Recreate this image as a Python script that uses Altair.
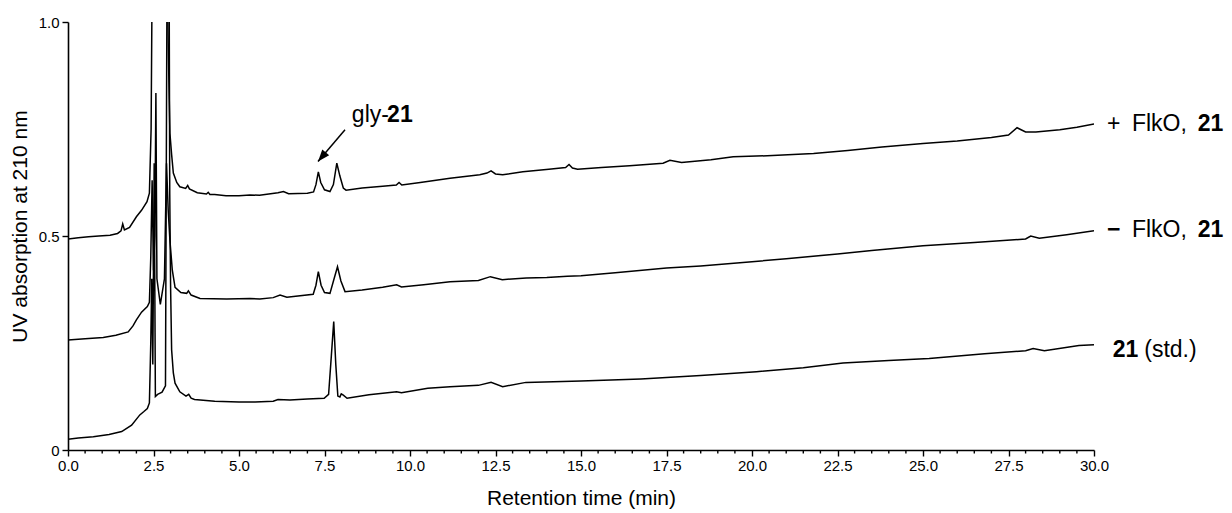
import altair as alt
import pandas as pd

# ---- chromatogram traces (retention time in min, absorption) ----
top_trace = [  # + FlkO, 21
    (0.0, 0.493), (0.3, 0.496), (0.6, 0.498), (0.9, 0.500), (1.23, 0.502), (1.45, 0.506),
    (1.55, 0.512), (1.6, 0.528), (1.65, 0.514), (1.8, 0.520), (2.0, 0.545), (2.15, 0.560),
    (2.31, 0.580), (2.38, 0.600), (2.43, 0.75), (2.46, 1.10), (2.5, 1.30), (2.85, 1.30),
    (2.9, 1.10), (2.93, 0.95), (2.96, 0.82), (2.98, 0.74), (3.03, 0.69), (3.08, 0.647),
    (3.18, 0.625), (3.27, 0.615), (3.44, 0.611), (3.5, 0.618), (3.55, 0.610), (3.78, 0.601),
    (4.05, 0.598), (4.1, 0.602), (4.15, 0.597), (4.29, 0.597), (4.62, 0.594), (5.0, 0.594),
    (5.32, 0.596), (5.6, 0.595), (6.14, 0.601), (6.3, 0.604), (6.45, 0.599), (7.0, 0.600),
    (7.18, 0.603), (7.25, 0.620), (7.32, 0.650), (7.39, 0.625), (7.5, 0.608), (7.66, 0.604),
    (7.76, 0.620), (7.86, 0.670), (7.95, 0.640), (8.05, 0.612), (8.13, 0.607), (8.6, 0.612),
    (9.2, 0.616), (9.6, 0.619), (9.68, 0.625), (9.76, 0.619), (10.3, 0.625), (11.17, 0.635),
    (12.04, 0.643), (12.25, 0.647), (12.37, 0.652), (12.5, 0.645), (12.71, 0.643), (13.3, 0.650),
    (14.06, 0.656), (14.55, 0.660), (14.65, 0.667), (14.75, 0.659), (14.9, 0.656), (15.6, 0.660),
    (16.42, 0.664), (17.4, 0.670), (17.6, 0.677), (17.94, 0.672), (18.8, 0.678), (19.45, 0.685),
    (20.6, 0.688), (21.8, 0.693), (22.8, 0.700), (23.8, 0.708), (25.0, 0.716), (26.0, 0.722),
    (27.0, 0.730), (27.5, 0.736), (27.75, 0.753), (28.0, 0.743), (28.3, 0.743), (29.0, 0.748),
    (29.5, 0.754), (30.0, 0.762),
]

mid_trace = [  # - FlkO, 21
    (0.0, 0.257), (0.5, 0.260), (1.03, 0.263), (1.4, 0.268), (1.76, 0.276), (1.9, 0.290),
    (2.0, 0.304), (2.15, 0.322), (2.32, 0.335), (2.38, 0.345), (2.42, 0.45), (2.46, 0.63),
    (2.50, 0.42), (2.54, 0.50), (2.57, 0.834), (2.60, 0.40), (2.70, 0.34), (2.82, 0.40),
    (2.88, 0.67), (2.93, 0.56), (2.98, 0.49), (3.05, 0.42), (3.13, 0.38), (3.3, 0.368),
    (3.47, 0.366), (3.52, 0.372), (3.6, 0.362), (3.86, 0.354), (4.64, 0.353), (5.32, 0.354),
    (5.61, 0.353), (6.0, 0.356), (6.2, 0.362), (6.4, 0.357), (7.17, 0.364), (7.25, 0.385),
    (7.32, 0.417), (7.40, 0.385), (7.5, 0.368), (7.66, 0.366), (7.78, 0.400), (7.88, 0.428),
    (7.98, 0.395), (8.1, 0.370), (8.6, 0.374), (9.2, 0.380), (9.61, 0.386), (9.75, 0.381),
    (10.4, 0.386), (11.17, 0.393), (12.0, 0.396), (12.35, 0.405), (12.7, 0.398), (13.4, 0.402),
    (14.0, 0.403), (14.6, 0.406), (15.0, 0.407), (16.0, 0.414), (17.5, 0.425), (18.5, 0.430),
    (20.0, 0.440), (21.0, 0.447), (22.5, 0.458), (23.5, 0.466), (25.0, 0.477), (26.5, 0.485),
    (28.0, 0.493), (28.15, 0.500), (28.4, 0.495), (29.2, 0.503), (30.0, 0.512),
]

std_trace = [  # 21 (std.)
    (0.0, 0.025), (0.3, 0.028), (0.74, 0.031), (1.2, 0.036), (1.57, 0.043), (1.86, 0.058),
    (2.1, 0.082), (2.22, 0.090), (2.32, 0.097), (2.38, 0.11), (2.42, 0.25), (2.45, 0.40),
    (2.48, 0.20), (2.52, 0.67), (2.555, 0.125), (2.62, 0.13), (2.75, 0.135), (2.85, 0.15),
    (2.90, 1.20), (2.95, 1.30), (2.975, 0.60), (3.0, 0.38), (3.03, 0.234), (3.08, 0.18),
    (3.13, 0.156), (3.27, 0.136), (3.45, 0.126), (3.53, 0.130), (3.6, 0.121), (3.7, 0.118),
    (4.29, 0.114), (5.0, 0.112), (5.47, 0.112), (6.0, 0.114), (6.14, 0.118), (6.49, 0.117),
    (7.0, 0.119), (7.49, 0.121), (7.62, 0.13), (7.70, 0.22), (7.77, 0.30), (7.83, 0.20),
    (7.89, 0.126), (7.95, 0.124), (7.99, 0.131), (8.05, 0.128), (8.16, 0.121), (8.8, 0.129),
    (9.61, 0.136), (9.75, 0.134), (10.52, 0.144), (11.17, 0.148), (12.0, 0.151), (12.37, 0.158),
    (12.71, 0.148), (13.39, 0.158), (15.0, 0.161), (16.75, 0.166), (18.5, 0.174), (20.13, 0.183),
    (21.5, 0.192), (22.66, 0.203), (24.0, 0.209), (25.18, 0.214), (26.8, 0.225), (28.0, 0.232),
    (28.22, 0.237), (28.55, 0.232), (29.56, 0.244), (30.0, 0.246),
]

# ---- axes ----
x_domain = [0, 30]
y_domain = [0, 1]
x_major_ticks = [i * 2.5 for i in range(13)]
x_minor_ticks = [i * 0.5 for i in range(61) if i % 5 != 0]
y_tick_values = [0, 0.5, 1.0]

# ---- annotations (data coordinates) ----
normal_labels = [
    ("gly-", 8.30, 0.767), ("+", 30.38, 0.746), ("FlkO,", 31.11, 0.746),
    ("FlkO,", 31.11, 0.498), ("(std.)", 31.47, 0.218),
]
bold_labels = [
    ("21", 9.33, 0.767), ("21", 33.03, 0.746), ("\u2212", 30.38, 0.498),
    ("21", 33.03, 0.498), ("21", 30.55, 0.218),
]
arrow_tail = (8.10, 0.748)
arrow_tip = (7.31, 0.674)

FONT = "Liberation Sans"
W, H = 1026, 428

frames = []
for name, tr in [("top", top_trace), ("mid", mid_trace), ("std", std_trace)]:
    frames.append(pd.DataFrame({"t": [p[0] for p in tr], "a": [p[1] for p in tr], "series": name}))
df = pd.concat(frames, ignore_index=True)

x_scale = alt.Scale(domain=x_domain, nice=False, zero=False)
y_scale = alt.Scale(domain=y_domain, nice=False)

x_axis = alt.Axis(
    values=x_major_ticks, format=".1f",
    tickSize=6, labelPadding=2, labelOverlap=False, labelFlush=False, labelFontSize=15,
    title="Retention time (min)", titleY=37, titleFontSize=21, titleFontWeight="normal",
    grid=False,
)
y_axis = alt.Axis(
    values=y_tick_values,
    labelExpr="datum.value == 0 ? '0' : format(datum.value, '.1f')",
    tickSize=6, labelPadding=3, grid=False, labelFontSize=15,
    title="UV absorption at 210 nm", titleX=-38, titleY=204, titleAngle=-90,
    titleBaseline="bottom", titleFontSize=21, titleFontWeight="normal",
)

lines = alt.Chart(df).mark_line(clip=True, color="black", strokeWidth=1.5).encode(
    x=alt.X("t:Q", scale=x_scale, axis=x_axis),
    y=alt.Y("a:Q", scale=y_scale, axis=y_axis),
    detail="series:N",
)

# minor ticks on the x axis (positions through the x scale)
minor_df = pd.DataFrame({"t": x_minor_ticks})
minor = alt.Chart(minor_df).mark_rule(color="black", strokeWidth=1.4).encode(
    x="t:Q",
    y=alt.value(H), y2=alt.value(H + 3.5),
)

arrow_df = pd.DataFrame({"t": [arrow_tail[0]], "a": [arrow_tail[1]],
                         "t2": [arrow_tip[0]], "a2": [arrow_tip[1]]})
arrow = alt.Chart(arrow_df).mark_rule(color="black", strokeWidth=1.5).encode(
    x="t:Q", y="a:Q", x2="t2:Q", y2="a2:Q")

head_df = pd.DataFrame({"t": [arrow_tip[0]], "a": [arrow_tip[1]]})
head = alt.Chart(head_df).mark_point(
    shape="M0,0 L0.75,2 L-0.75,2 Z", filled=True, color="black", opacity=1,
    size=144, angle=220, strokeWidth=0,
).encode(x="t:Q", y="a:Q")

ndf = pd.DataFrame({"label": [l[0] for l in normal_labels], "t": [l[1] for l in normal_labels],
                    "a": [l[2] for l in normal_labels]})
bdf = pd.DataFrame({"label": [l[0] for l in bold_labels], "t": [l[1] for l in bold_labels],
                    "a": [l[2] for l in bold_labels]})

text_n = alt.Chart(ndf).mark_text(
    align="left", baseline="alphabetic", font=FONT, fontSize=23, color="black",
).encode(x="t:Q", y="a:Q", text="label:N")
text_b = alt.Chart(bdf).mark_text(
    align="left", baseline="alphabetic", font=FONT, fontSize=23, fontWeight="bold", color="black",
).encode(x="t:Q", y="a:Q", text="label:N")

chart = alt.layer(lines, minor, arrow, head, text_n, text_b).properties(
    width=W, height=H,
    background="white",
    autosize=alt.AutoSizeParams(type="none"),
    padding={"left": 68, "top": 22, "right": 138, "bottom": 63},
).configure_view(stroke=None).configure_axis(
    domainColor="black", domainWidth=1.6, tickColor="black", tickWidth=1.4,
    labelColor="black", labelFont=FONT, labelFontSize=15, labelOverlap=False,
    titleColor="black", titleFont=FONT,
)

chart.save("out.html", embed_options={"renderer": "svg", "actions": False})
